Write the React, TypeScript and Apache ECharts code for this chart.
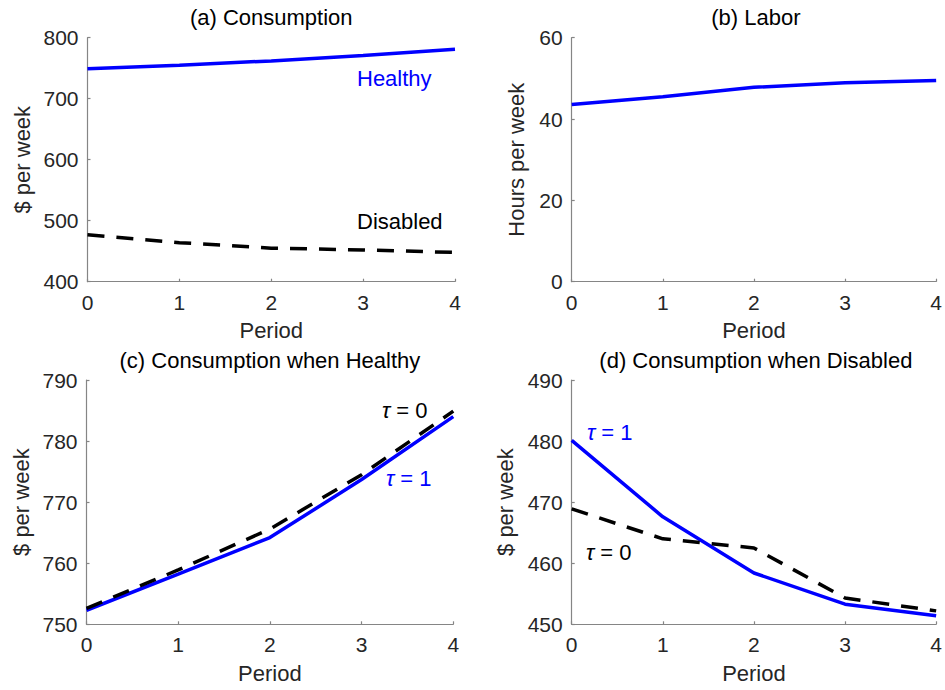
import React, { useEffect, useRef } from "react";
import * as echarts from "echarts";

// ---- data ----
const periods = [0, 1, 2, 3, 4];
const consHealthy = [749, 755, 762, 771, 781];
const consDisabled = [477, 464, 455, 452, 448];
const laborHours = [43.6, 45.5, 47.8, 48.9, 49.5];
const healthyTau1 = [752.3, 758.2, 764.2, 773.7, 784.0];
const healthyTau0 = [752.6, 758.9, 765.6, 774.5, 784.9];
const disabledTau1 = [480.1, 467.6, 458.4, 453.3, 451.4];
const disabledTau0 = [468.9, 464.0, 462.5, 454.3, 452.2];

const panelTitles = [
  "(a) Consumption",
  "(b) Labor",
  "(c) Consumption when Healthy",
  "(d) Consumption when Disabled",
];
const yNames = ["$ per week", "Hours per week", "$ per week", "$ per week"];
const xName = "Period";
const yRanges = [
  { min: 400, max: 800, interval: 100 },
  { min: 0, max: 60, interval: 20 },
  { min: 750, max: 790, interval: 10 },
  { min: 450, max: 490, interval: 10 },
];

const FONT = "'Liberation Sans', Arial, Helvetica, sans-serif";
const FS = 22; // words
const FT = 21; // tick numbers
const TXT = "#262626";
const AX = "#858585";
const BLUE = "#0000ff";

const grids = [
  { left: 87.5, top: 37.7, width: 367.5, height: 244 },
  { left: 571.7, top: 37.7, width: 368.3, height: 244 },
  { left: 86.5, top: 380, width: 366.8, height: 244.3 },
  { left: 571.7, top: 380, width: 368.3, height: 244.3 },
];
const yNameGaps = [54, 44.5, 54.5, 55];

const toPairs = (vals: number[]) => periods.map((p, i) => [p, vals[i]]);

export default function App() {
  const ref = useRef<HTMLDivElement>(null);
  useEffect(() => {
    if (!ref.current) return;
    const chart = echarts.init(ref.current, null, { renderer: "svg" });

    const xAxis = grids.map((_, i) => ({
      type: "value",
      gridIndex: i,
      min: 0,
      max: 4,
      interval: 1,
      name: xName,
      nameLocation: "middle",
      nameGap: 38,
      nameTextStyle: { fontSize: FS, color: TXT, fontFamily: FONT },
      axisLine: { show: true, onZero: false, lineStyle: { color: AX, width: 1.2 } },
      axisTick: { show: true, inside: true, length: 3, lineStyle: { color: AX, width: 1.2 } },
      axisLabel: { margin: 10, fontSize: FT, color: TXT, fontFamily: FONT },
      splitLine: { show: false },
    }));

    const yAxis = grids.map((_, i) => ({
      type: "value",
      gridIndex: i,
      ...yRanges[i],
      name: yNames[i],
      nameLocation: "middle",
      nameGap: yNameGaps[i],
      nameRotate: 90,
      nameTextStyle: { fontSize: FS, color: TXT, fontFamily: FONT },
      axisLine: { show: true, onZero: false, lineStyle: { color: AX, width: 1.2 } },
      axisTick: { show: true, inside: true, length: 3, lineStyle: { color: AX, width: 1.2 } },
      axisLabel: { margin: 9, fontSize: FT, color: TXT, fontFamily: FONT },
      splitLine: { show: false },
    }));

    const line = (idx: number, vals: number[], color: string, dashed: boolean, name: string) => ({
      type: "line",
      name,
      xAxisIndex: idx,
      yAxisIndex: idx,
      data: toPairs(vals),
      symbol: "none",
      showSymbol: false,
      lineStyle: { color, width: 3.5, type: dashed ? [17, 12] : "solid" },
      z: dashed ? 3 : 2,
    });

    const series = [
      line(0, consHealthy, BLUE, false, "Healthy"),
      line(0, consDisabled, "#000", true, "Disabled"),
      line(1, laborHours, BLUE, false, "Labor"),
      line(2, healthyTau1, BLUE, false, "Healthy τ = 1"),
      line(2, healthyTau0, "#000", true, "Healthy τ = 0"),
      line(3, disabledTau1, BLUE, false, "Disabled τ = 1"),
      line(3, disabledTau0, "#000", true, "Disabled τ = 0"),
    ];

    const titleText = (i: number, y: number) => ({
      type: "text",
      x: grids[i].left + grids[i].width / 2,
      y,
      style: {
        text: panelTitles[i],
        fontSize: FS,
        fontFamily: FONT,
        fill: "#000",
        align: "center",
        verticalAlign: "middle",
      },
    });

    const note = (x: number, y: number, text: string, color: string) => ({
      type: "text",
      x,
      y,
      style: {
        text,
        fontSize: FS,
        fontFamily: FONT,
        fill: color,
        align: "left",
        verticalAlign: "middle",
        rich: {
          i: { fontStyle: "italic", fontSize: FS, fontFamily: FONT, fill: color },
        },
      },
    });

    chart.setOption({
      animation: false,
      backgroundColor: "#ffffff",
      grid: grids.map((g) => ({ ...g, containLabel: false })),
      xAxis,
      yAxis,
      series,
      graphic: [
        titleText(0, 17.5),
        titleText(1, 17.5),
        titleText(2, 360),
        titleText(3, 360),
        note(357, 78, "Healthy", BLUE),
        note(357, 221, "Disabled", "#000"),
        note(382, 410, "{i|τ} = 0", "#000"),
        note(386, 478, "{i|τ} = 1", BLUE),
        note(587, 432, "{i|τ} = 1", BLUE),
        note(586, 552, "{i|τ} = 0", "#000"),
      ],
    });
    return () => chart.dispose();
  }, []);
  return (
    <div
      ref={ref}
      style={{ position: "fixed", left: 0, top: 0, width: 945, height: 690, background: "#fff" }}
    />
  );
}
